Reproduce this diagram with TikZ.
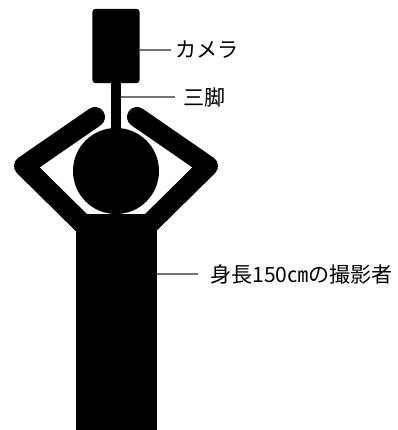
\documentclass[tikz,border=0pt]{standalone}
\usepackage{fontspec}
\newfontfamily\jpfont{Noto Sans CJK JP}
\usepackage{tikz}
\usetikzlibrary{calc}

\begin{document}
\begin{tikzpicture}[
    x=0.025cm, y=-0.025cm,
    part/.style={
      rectangle,
      fill=black,
      inner sep=0pt,
      anchor=center
    },
    limb/.style={
      line width=0.5cm,
      line cap=round,
      line join=round
    },
    leader/.style={
      draw=black!55,
      line width=1pt
    },
    tag/.style={
      font=\jpfont\fontsize{15pt}{18pt}\selectfont,
      inner sep=0pt,
      anchor=west
    }
  ]
  \useasboundingbox (0,0) rectangle (398,430);
  % arms held up over the head
  \draw[limb] (95,117) -- (24,166) -- (100,241);
  \draw[limb] (137,117) -- (208,166) -- (132,241);
  % body, head, tripod and camera
  \node[part, minimum width=2.025cm, minimum height=5.5cm] (body) at (116.5,324) {};
  \node[part, circle, minimum size=2.15cm] (head) at (116,171) {};
  \node[part, minimum width=0.25cm, minimum height=1.3cm] (tripod) at (116,107) {};
  \node[part, rounded corners=2pt, minimum width=1.175cm, minimum height=1.85cm] (camera) at (116,46) {};
  % labels
  \node[tag] (lbcamera) at (175,50) {カメラ};
  \node[tag] (lbtripod) at (183,97) {三脚};
  \node[tag] (lbperson) at (210,274) {身長150㎝の撮影者};
  \draw[leader] (camera.east |- lbcamera.west) -- ($(lbcamera.west)+(-4,0)$);
  \draw[leader] (tripod.east |- lbtripod.west) -- ($(lbtripod.west)+(-8,0)$);
  \draw[leader] (body.east |- lbperson.west) -- ($(lbperson.west)+(-12,0)$);
\end{tikzpicture}
\end{document}
